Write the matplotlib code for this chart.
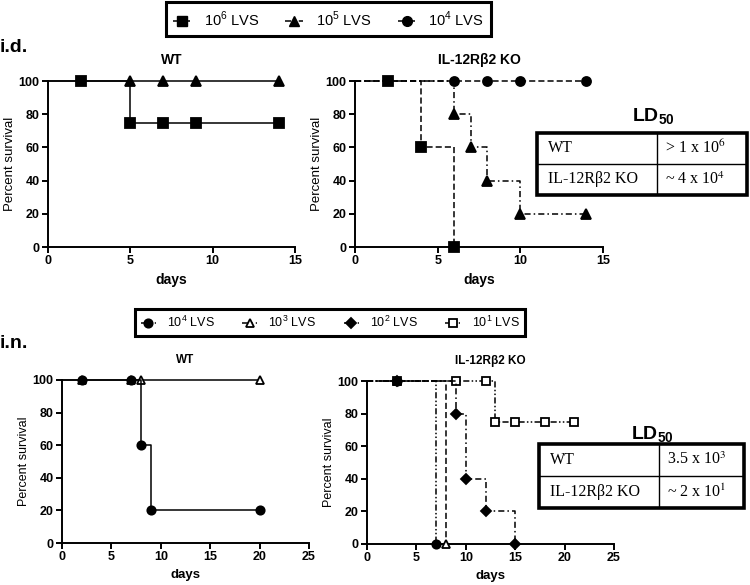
import numpy as np
import matplotlib.pyplot as plt
from matplotlib.lines import Line2D
from matplotlib.patches import Rectangle

plt.rcParams['font.family'] = ['Liberation Sans', 'DejaVu Sans']
plt.rcParams['mathtext.fontset'] = 'custom'
plt.rcParams['mathtext.rm'] = 'Liberation Sans'
plt.rcParams['mathtext.bf'] = 'Liberation Sans:bold'

# i.d. infection, WT
id_wt_1e6_t = [0, 2, 5, 7, 9, 14]
id_wt_1e6_s = [100, 100, 75, 75, 75, 75]
id_wt_1e5_t = [0, 5, 7, 9, 14]
id_wt_1e5_s = [100, 100, 100, 100, 100]

# i.d. infection, IL-12Rb2 KO
id_ko_1e6_t = [0, 2, 4, 6]
id_ko_1e6_s = [100, 100, 60, 0]
id_ko_1e5_t = [0, 6, 7, 8, 10, 14]
id_ko_1e5_s = [100, 80, 60, 40, 20, 20]
id_ko_1e4_t = [0, 6, 8, 10, 14]
id_ko_1e4_s = [100, 100, 100, 100, 100]

# i.n. infection, WT
in_wt_1e4_t = [0, 2, 7, 8, 9, 20]
in_wt_1e4_s = [100, 100, 100, 60, 20, 20]
in_wt_1e3_t = [0, 2, 7, 8, 20]
in_wt_1e3_s = [100, 100, 100, 100, 100]

# i.n. infection, IL-12Rb2 KO
in_ko_1e4_t = [0, 3, 7]
in_ko_1e4_s = [100, 100, 0]
in_ko_1e3_t = [0, 3, 8]
in_ko_1e3_s = [100, 100, 0]
in_ko_1e2_t = [0, 3, 9, 10, 12, 15]
in_ko_1e2_s = [100, 100, 80, 40, 20, 0]
in_ko_1e1_t = [0, 3, 9, 12, 13, 15, 18, 21]
in_ko_1e1_s = [100, 100, 100, 100, 75, 75, 75, 75]

id_labels = [r'10$^6$ LVS', r'10$^5$ LVS', r'10$^4$ LVS']
in_labels = [r'10$^4$ LVS', r'10$^3$ LVS', r'10$^2$ LVS', r'10$^1$ LVS']

ld_id = [['WT', r'> 1 x 10$^6$'], [u'IL-12R\u03b22 KO', r'~ 4 x 10$^4$']]
ld_in = [['WT', r'3.5 x 10$^3$'], [u'IL-12R\u03b22 KO', r'~ 2 x 10$^1$']]

DASH = (0, (4, 2))
DASHDOT = (0, (4, 2, 1, 2))
DASHDOTDOT = (0, (4, 1.5, 1, 1.5, 1, 1.5))

fig = plt.figure(figsize=(7.5, 5.85), dpi=100)


def style_axes(ax, xmax, title, tsize, ysize):
    ax.set_xlim(0, xmax)
    ax.set_ylim(0, 100)
    ax.set_xticks(np.arange(0, xmax + 1, 5))
    ax.set_yticks([0, 20, 40, 60, 80, 100])
    for s in ['top', 'right']:
        ax.spines[s].set_visible(False)
    for s in ['left', 'bottom']:
        ax.spines[s].set_linewidth(1.4)
    ax.tick_params(direction='out', length=4, width=1.4, labelsize=9, pad=2)
    for lab in ax.get_xticklabels() + ax.get_yticklabels():
        lab.set_fontweight('bold')
    ax.set_xlabel('days', fontsize=ysize + 0.5, fontweight='bold', labelpad=4)
    ax.set_ylabel('Percent survival', fontsize=ysize, labelpad=2)
    ax.set_title(title, fontsize=tsize, fontweight='bold', pad=12)


def km(ax, t, s, ls, marker, ms, mfc='black'):
    ax.step(t, s, where='post', color='black', lw=1.1, linestyle=ls,
            marker=marker, markersize=ms, markerfacecolor=mfc,
            markeredgecolor='black', markeredgewidth=1.3,
            markevery=slice(1, None), clip_on=False, zorder=3)


def ld_table(x0, y0, x1, y1, xdiv, rows, title_y):
    tax = fig.add_axes([x0 / 750, 1 - y1 / 585, (x1 - x0) / 750, (y1 - y0) / 585])
    tax.set_xlim(x0, x1)
    tax.set_ylim(y1, y0)
    tax.axis('off')
    tax.add_patch(Rectangle((x0, y0), x1 - x0, y1 - y0, fill=False,
                            lw=2.6, ec='black', clip_on=False))
    ymid = (y0 + y1) / 2
    tax.plot([xdiv, xdiv], [y0, y1], color='black', lw=1.0)
    tax.plot([x0, x1], [ymid, ymid], color='black', lw=1.0)
    for i, (a, b) in enumerate(rows):
        yc = y0 + (i + 0.5) * (y1 - y0) / 2
        tax.text(x0 + 11, yc, a, fontsize=11.5, family='Liberation Serif',
                 va='center', ha='left', math_fontfamily='stix')
        tax.text(xdiv + 8, yc, b, fontsize=11.5, family='Liberation Serif',
                 va='center', ha='left', math_fontfamily='stix')
    fig.text((x0 + x1) / 2 / 750 + 0.015, 1 - title_y / 585, r'LD$_\mathbf{50}$',
             fontsize=14, fontweight='bold', ha='center', va='center')


# top row: i.d.
ax1 = fig.add_axes([48 / 750, 1 - 247 / 585, 247 / 750, 166 / 585])
km(ax1, id_wt_1e6_t, id_wt_1e6_s, '-', 's', 6.5)
km(ax1, id_wt_1e5_t, id_wt_1e5_s, '-', '^', 6.5)
style_axes(ax1, 15, 'WT', 10, 9.5)

ax2 = fig.add_axes([355 / 750, 1 - 247 / 585, 248 / 750, 166 / 585])
km(ax2, id_ko_1e6_t, id_ko_1e6_s, DASH, 's', 6.5)
km(ax2, id_ko_1e5_t, id_ko_1e5_s, DASHDOT, '^', 6.5)
km(ax2, id_ko_1e4_t, id_ko_1e4_s, DASH, 'o', 6.5)
style_axes(ax2, 15, u'IL-12R\u03b22 KO', 10, 9.5)

ld_table(537, 133, 747, 195, 657, ld_id, 117)

# bottom row: i.n.
ax3 = fig.add_axes([62 / 750, 1 - 543 / 585, 247 / 750, 163 / 585])
km(ax3, in_wt_1e3_t, in_wt_1e3_s, '-', '^', 6, 'white')
km(ax3, in_wt_1e4_t, in_wt_1e4_s, '-', 'o', 6)
style_axes(ax3, 25, 'WT', 8.5, 9)

ax4 = fig.add_axes([367 / 750, 1 - 544 / 585, 247 / 750, 163 / 585])
km(ax4, in_ko_1e1_t, in_ko_1e1_s, DASHDOTDOT, 's', 6, 'white')
km(ax4, in_ko_1e3_t, in_ko_1e3_s, DASH, '^', 6, 'white')
km(ax4, in_ko_1e4_t, in_ko_1e4_s, DASHDOTDOT, 'o', 6)
km(ax4, in_ko_1e2_t, in_ko_1e2_s, DASHDOT, 'D', 5)
style_axes(ax4, 25, u'IL-12R\u03b22 KO', 8.5, 9)

ld_table(539, 444, 744, 508, 659, ld_in, 435)

# panel labels
fig.text(0.0, 1 - 48 / 585, 'i.d.', fontsize=14, fontweight='bold', va='center')
fig.text(0.0, 1 - 343 / 585, 'i.n.', fontsize=14, fontweight='bold', va='center')

# legends
h_id = [Line2D([], [], color='black', lw=1.1, linestyle=DASHDOT, marker=m,
               markersize=7, markerfacecolor='black', markeredgecolor='black')
        for m in ['s', '^', 'o']]
leg1 = fig.legend(h_id, id_labels, loc='center', ncol=3,
                  bbox_to_anchor=(328.5 / 750, 1 - 19 / 585), fontsize=10.5,
                  frameon=True, fancybox=False, edgecolor='black', framealpha=1,
                  handlelength=1.2, columnspacing=1.8, handletextpad=0.9,
                  borderpad=0.5)
leg1.get_frame().set_linewidth(2.2)

h_in = [Line2D([], [], color='black', lw=1.1, linestyle=DASHDOT, marker=m,
               markersize=ms, markerfacecolor=fc, markeredgecolor='black',
               markeredgewidth=1.3)
        for m, ms, fc in [('o', 6, 'black'), ('^', 6, 'white'),
                          ('D', 5, 'black'), ('s', 6, 'white')]]
leg2 = fig.legend(h_in, in_labels, loc='center', ncol=4,
                  bbox_to_anchor=(330 / 750, 1 - 322.5 / 585), fontsize=9,
                  frameon=True, fancybox=False, edgecolor='black', framealpha=1,
                  handlelength=1.2, columnspacing=2.2, handletextpad=0.9,
                  borderpad=0.45)
leg2.get_frame().set_linewidth(2.2)

plt.savefig('out.png', dpi=100)
